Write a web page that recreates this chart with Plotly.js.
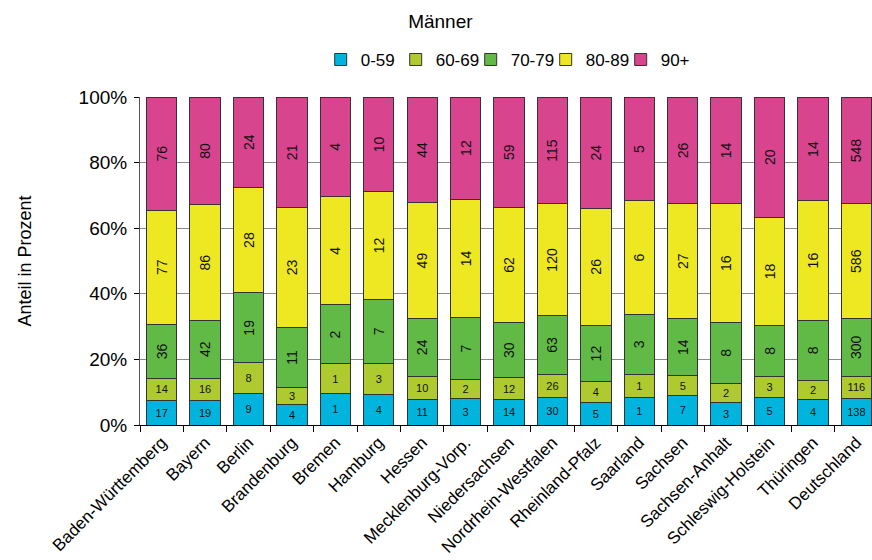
<!DOCTYPE html>
<html><head><meta charset="utf-8">
<script src="https://cdn.plot.ly/plotly-3.0.1.min.js"></script>
<style>html,body{margin:0;padding:0;background:#fff;}#chart{width:872px;height:560px;}</style>
</head><body><div id="chart"></div>
<script>
const categories = ["Baden-Württemberg","Bayern","Berlin","Brandenburg","Bremen","Hamburg","Hessen","Mecklenburg-Vorp.","Niedersachsen","Nordrhein-Westfalen","Rheinland-Pfalz","Saarland","Sachsen","Sachsen-Anhalt","Schleswig-Holstein","Thüringen","Deutschland"];
const seriesNames = ["0-59","60-69","70-79","80-89","90+"];

// shares in percent
const share_0_59  = [7.6, 7.6, 9.6, 6.4, 9.6, 9.4, 7.8, 8.1, 7.8, 8.3, 6.9, 8.4, 9.0, 6.9, 8.4, 7.9, 8.1];
const share_60_69 = [6.6, 6.7, 9.4, 5.0, 9.0, 9.4, 7.1, 5.8, 6.6, 7.2, 6.3, 7.1, 6.0, 5.8, 6.5, 5.6, 6.8];
const share_70_79 = [16.5, 17.6, 21.3, 18.4, 18.0, 19.6, 17.6, 18.8, 16.8, 17.8, 17.2, 18.3, 17.5, 18.6, 15.5, 18.5, 17.6];
const share_80_89 = [34.8, 35.2, 32.2, 36.5, 33.0, 32.7, 35.3, 36.2, 35.2, 34.1, 35.7, 34.5, 34.9, 36.1, 32.9, 36.3, 34.9];
const share_90    = [34.5, 32.9, 27.5, 33.7, 30.4, 28.9, 32.2, 31.1, 33.6, 32.6, 33.9, 31.7, 32.6, 32.6, 36.7, 31.7, 32.6];

// counts shown as labels
const count_0_59  = [17, 19, 9, 4, 1, 4, 11, 3, 14, 30, 5, 1, 7, 3, 5, 4, 138];
const count_60_69 = [14, 16, 8, 3, 1, 3, 10, 2, 12, 26, 4, 1, 5, 2, 3, 2, 116];
const count_70_79 = [36, 42, 19, 11, 2, 7, 24, 7, 30, 63, 12, 3, 14, 8, 8, 8, 300];
const count_80_89 = [77, 86, 28, 23, 4, 12, 49, 14, 62, 120, 26, 6, 27, 16, 18, 16, 586];
const count_90    = [76, 80, 24, 21, 4, 10, 44, 12, 59, 115, 24, 5, 26, 14, 20, 14, 548];

const yTickVals = [0, 20, 40, 60, 80, 100];
const yTickText = ["0%", "20%", "40%", "60%", "80%", "100%"];

const colors = ["#00B4DE", "#AECA2F", "#62BA46", "#EEE823", "#D9448F"];
const shares = [share_0_59, share_60_69, share_70_79, share_80_89, share_90];
const counts = [count_0_59, count_60_69, count_70_79, count_80_89, count_90];
const FONT = "Liberation Sans, Arial, Helvetica, sans-serif";

const traces = seriesNames.map((name, i) => ({
  type: "bar",
  name: name,
  x: categories,
  y: shares[i],
  text: counts[i].map(String),
  textposition: "inside",
  insidetextanchor: "middle",
  constraintext: "none",
  textangle: i < 2 ? 0 : -90,
  textfont: {family: FONT, size: i < 2 ? 11 : 14, color: "#111"},
  hoverinfo: "none",
  marker: {color: colors[i], line: {color: "#333", width: 1}}
}));

const layout = {
  width: 872, height: 560,
  paper_bgcolor: "#fff", plot_bgcolor: "#fff",
  barmode: "stack",
  bargap: 0.3,
  margin: {l: 140, r: 0, t: 97, b: 135},
  font: {family: FONT, color: "#000"},
  title: {text: "Männer", font: {family: FONT, size: 19, color: "#000"}, x: 0.505, xanchor: "center", y: 0.962, yanchor: "middle"},
  showlegend: true,
  legend: {orientation: "h", x: 0.503, xanchor: "center", y: 1.113, yanchor: "middle",
           font: {family: FONT, size: 17, color: "#000"}, traceorder: "normal",
           itemwidth: 30, entrywidth: 30, entrywidthmode: "pixels", tracegroupgap: 0, bgcolor: "rgba(0,0,0,0)"},
  xaxis: {
    type: "category",
    range: [-0.5, 16.36],
    tickangle: -45,
    tickson: "boundaries",
    ticks: "outside", ticklen: 6, tickcolor: "#000",
    showline: true, linecolor: "#000", linewidth: 1,
    showgrid: false,
    tickfont: {family: FONT, size: 17, color: "#000"},
    fixedrange: true
  },
  yaxis: {
    range: [0, 100],
    tickvals: yTickVals, ticktext: yTickText,
    ticks: "outside", ticklen: 5, tickcolor: "#000",
    showline: true, linecolor: "#555", linewidth: 1,
    showgrid: true, gridcolor: "#8a8a8a", gridwidth: 1,
    zeroline: false,
    ticklabelstandoff: 3,
    tickfont: {family: FONT, size: 19, color: "#000"},
    title: {text: "Anteil in Prozent", font: {family: FONT, size: 18, color: "#000"}, standoff: 42},
    fixedrange: true
  }
};

Plotly.newPlot("chart", traces, layout, {displayModeBar: false, staticPlot: true});
</script>
</body></html>
